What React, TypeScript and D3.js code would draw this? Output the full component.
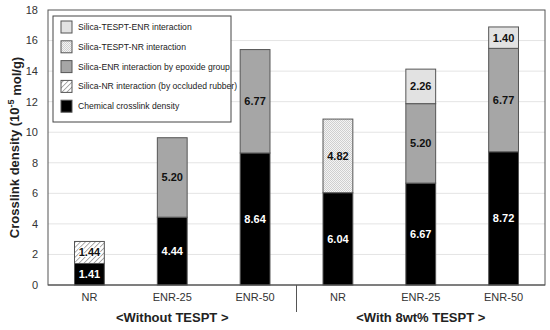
import * as d3 from "d3";

const categories = ["NR", "ENR-25", "ENR-50", "NR ", "ENR-25 ", "ENR-50 "];
const catLabels = ["NR", "ENR-25", "ENR-50", "NR", "ENR-25", "ENR-50"];
const groups = ["<Without TESPT >", "<With 8wt% TESPT >"];

const chemical = [1.41, 4.44, 8.64, 6.04, 6.67, 8.72];
const silicaNR = [1.44, 0, 0, 0, 0, 0];
const silicaENR = [0, 5.2, 6.77, 0, 5.2, 6.77];
const tesptNR = [0, 0, 0, 4.82, 0, 0];
const tesptENR = [0, 0, 0, 0, 2.26, 1.4];
const yTicks = [0, 2, 4, 6, 8, 10, 12, 14, 16, 18];

const seriesKeys = ["chemical", "silicaNR", "silicaENR", "tesptNR", "tesptENR"];
const seriesValues: Record<string, number[]> = { chemical, silicaNR, silicaENR, tesptNR, tesptENR };
const fills: Record<string, string> = {
  chemical: "#000",
  silicaNR: "url(#hatch)",
  silicaENR: "#a6a6a6",
  tesptNR: "url(#dots)",
  tesptENR: "#e2e2e2",
};
const legendItems = [
  { key: "tesptENR", label: "Silica-TESPT-ENR interaction" },
  { key: "tesptNR", label: "Silica-TESPT-NR interaction" },
  { key: "silicaENR", label: "Silica-ENR interaction by epoxide group" },
  { key: "silicaNR", label: "Silica-NR interaction (by occluded rubber)" },
  { key: "chemical", label: "Chemical crosslink density" },
];

export default function App() {
  const width = 550;
  const height = 330;
  const left = 48, right = 545, top = 10, bottom = 285;
  const font = "Liberation Sans, Arial, sans-serif";

  const x = d3.scaleBand<string>().domain(categories).range([left, right]).paddingInner(0.64).paddingOuter(0.32);
  const y = d3.scaleLinear().domain([0, 18]).range([bottom, top]);

  const rows = categories.map((c, i) => {
    const r: Record<string, number | string> = { cat: c };
    seriesKeys.forEach((k) => (r[k] = seriesValues[k][i]));
    return r;
  });
  const stacked = d3.stack<any>().keys(seriesKeys)(rows);
  const step = x.step();
  const sepX = left + step * 3;

  return (
    <svg width={width} height={height} style={{ position: "absolute", left: 0, top: 0 }} fontFamily={font}>
      <defs>
        <pattern id="hatch" width="3.5" height="3.5" patternUnits="userSpaceOnUse" patternTransform="rotate(45)">
          <rect width="3.5" height="3.5" fill="#fff" />
          <line x1="0" y1="0" x2="0" y2="3.5" stroke="#8a8a8a" strokeWidth="1.4" />
        </pattern>
        <pattern id="dots" width="2" height="2" patternUnits="userSpaceOnUse">
          <rect width="2" height="2" fill="#f4f4f4" />
          <rect width="1" height="1" fill="#cfcfcf" />
          <rect x="1" y="1" width="1" height="1" fill="#cfcfcf" />
        </pattern>
      </defs>
      <rect x={0} y={0} width={width} height={height} fill="#fff" />
      {yTicks.map((t) => (
        <g key={t}>
          {t > 0 && t < 18 && <line x1={left} x2={right} y1={y(t)} y2={y(t)} stroke="#e4e4e4" strokeWidth={1} />}
          <text x={38} y={y(t)} dy="0.35em" textAnchor="end" fontSize={11} fill="#333">{t}</text>
        </g>
      ))}
      <rect x={left} y={top} width={right - left} height={bottom - top} fill="none" stroke="#555" strokeWidth={1} />
      {stacked.map((s) =>
        s.map((d, i) => {
          const v = d[1] - d[0];
          if (v <= 0) return null;
          const key = s.key;
          const bx = x(categories[i])!;
          const y0 = y(d[1]);
          const h = y(d[0]) - y(d[1]);
          return (
            <g key={key + i}>
              <rect x={bx} y={y0} width={x.bandwidth()} height={h} fill={fills[key]} stroke="#555" strokeWidth={1} />
              <text
                x={bx + x.bandwidth() / 2}
                y={y0 + h / 2}
                dy="0.35em"
                textAnchor="middle"
                fontSize={11}
                fontWeight="bold"
                fill={key === "chemical" ? "#fff" : "#111"}
                style={key === "silicaNR" ? { paintOrder: "stroke" } : undefined}
                stroke={key === "silicaNR" ? "#fff" : "none"}
                strokeWidth={key === "silicaNR" ? 2 : 0}
              >
                {v.toFixed(2)}
              </text>
            </g>
          );
        })
      )}
      <line x1={left} x2={right} y1={bottom} y2={bottom} stroke="#555" strokeWidth={1.2} />
      <line x1={sepX} x2={sepX} y1={bottom} y2={312} stroke="#555" strokeWidth={1} />
      {categories.map((c, i) => (
        <text key={c} x={x(c)! + x.bandwidth() / 2} y={297} dy="0.35em" textAnchor="middle" fontSize={11} fill="#333">
          {catLabels[i]}
        </text>
      ))}
      {groups.map((g, gi) => (
        <text key={g} x={left + step * (1.5 + gi * 3)} y={317} dy="0.35em" textAnchor="middle" fontSize={13} fontWeight="bold" fill="#222">
          {g}
        </text>
      ))}
      <text transform={`translate(14, ${(top + bottom) / 2}) rotate(-90)`} textAnchor="middle" dy="0.35em" fontSize={13} fontWeight="bold" fill="#222">
        Crosslink density (10
        <tspan dy="-0.5em" fontSize={9}>-5</tspan>
        <tspan dy="0.5em"> mol/g)</tspan>
      </text>
      <rect x={53} y={16} width={178} height={106} fill="#fff" stroke="#444" strokeWidth={1} />
      {legendItems.map((it, i) => {
        const cy = 27 + i * 19.8;
        return (
          <g key={it.key}>
            <rect x={61} y={cy - 6} width={11} height={12} fill={fills[it.key]} stroke="#555" strokeWidth={1} />
            <text x={78} y={cy} dy="0.35em" fontSize={8.6} fill="#222">{it.label}</text>
          </g>
        );
      })}
    </svg>
  );
}
